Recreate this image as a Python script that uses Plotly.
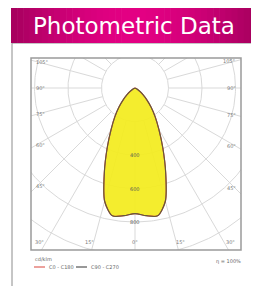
import numpy as np
import plotly.graph_objects as go

# ---------------- data ----------------
gamma_deg = [0, 5, 10, 15, 20, 25, 30, 35, 40, 45, 50, 55, 60, 65, 70, 75, 80, 85, 90]
i_c0_c180 = [750, 765, 775, 700, 535, 392, 285, 210, 150, 100, 62, 36, 18, 8, 3, 1, 0, 0, 0]
i_c90_c270 = [750, 765, 775, 700, 535, 392, 285, 210, 150, 100, 62, 36, 18, 8, 3, 1, 0, 0, 0]
grid_circles = [200, 400, 600, 800, 1000, 1200]
circle_label_values = [400, 600, 800]
circle_labels = ["400", "600", "800"]
side_angle_values = [105, 90, 75, 60, 45]
bottom_angle_values = [-30, -15, 0, 15, 30]
title_text = "Photometric Data"
legend_unit = "cd/klm"
legend_names = ["C0 - C180", "C90 - C270"]
efficiency_text = "η = 100%"

# ---------------- geometry / style ----------------
OFF = 8                                  # page body margin
W, H = 259 - OFF, 286 - OFF              # keep the page from overflowing the window
L, T, R, B = 31 - OFF, 58 - OFF, 241 - OFF, 250 - OFF   # plot area in figure px
CX, CY = 135 - OFF, 88 - OFF                            # pole position
K = 0.1675                               # px per cd/klm
x_min, x_max = (L - CX) / K, (R - CX) / K
y_max, y_min = (CY - T) / K, -(B - CY) / K

GRID = "#d9d9d9"
LABEL = "#7a7a7a"


def px_x(px):
    """screen x (as in the reference) -> paper coordinate"""
    return (px - OFF - L) / (R - L)


def px_y(py):
    """screen y (as in the reference) -> paper coordinate"""
    return (B - (py - OFF)) / (B - T)


def full_curve(gam, vals):
    th = [-g for g in reversed(gam)] + list(gam[1:])
    rr = list(reversed(vals)) + list(vals[1:])
    th = np.radians(th)
    rr = np.array(rr, dtype=float)
    return rr * np.sin(th), -rr * np.cos(th)


fig = go.Figure()

# grid circles
t = np.radians(np.linspace(0, 360, 361))
for rc in grid_circles:
    fig.add_trace(go.Scatter(x=rc * np.cos(t), y=rc * np.sin(t), mode="lines",
                             line=dict(color=GRID, width=1), hoverinfo="skip",
                             showlegend=False))
# radial lines every 15 deg, from the first circle outward
gx, gy = [], []
for a in range(0, 360, 15):
    ar = np.radians(a)
    r0, r1 = grid_circles[0], 1500
    gx += [r0 * np.sin(ar), r1 * np.sin(ar), None]
    gy += [-r0 * np.cos(ar), -r1 * np.cos(ar), None]
fig.add_trace(go.Scatter(x=gx, y=gy, mode="lines", line=dict(color=GRID, width=1),
                         hoverinfo="skip", showlegend=False))

# filled distribution
fx, fy = full_curve(gamma_deg, i_c90_c270)
fig.add_trace(go.Scatter(x=fx, y=fy, mode="lines", fill="toself",
                         fillcolor="rgba(243,236,30,0.93)",
                         line=dict(width=0, shape="spline", smoothing=0.8),
                         hoverinfo="skip", showlegend=False))
# C0-C180 (red) and C90-C270 (dark) outlines
x0c, y0c = full_curve(gamma_deg, i_c0_c180)
fig.add_trace(go.Scatter(x=x0c, y=y0c, mode="lines", name=legend_names[0],
                         line=dict(color="#d9453a", width=1.2, shape="spline", smoothing=0.8),
                         showlegend=False))
fig.add_trace(go.Scatter(x=fx, y=fy, mode="lines", name=legend_names[1],
                         line=dict(color="#5f5c3c", width=1.1, shape="spline", smoothing=0.8),
                         showlegend=False))

ann = []
# intensity labels along 0 deg
for v, s in zip(circle_label_values, circle_labels):
    ann.append(dict(x=0, y=-v, text=s, showarrow=False, xref="x", yref="y",
                    font=dict(size=5, color="#555555", family="DejaVu Sans")))

# side angle labels
inset = 6 / K
for a in side_angle_values:
    ar = np.radians(a)
    for side in (-1, 1):
        dist = (-x_min if side < 0 else x_max) - inset
        yy = -dist * np.cos(ar) / np.sin(ar)
        ann.append(dict(x=(x_min if side < 0 else x_max), y=yy, text=f"{a}°",
                        showarrow=False, xref="x", yref="y",
                        xanchor=("left" if side < 0 else "right"),
                        xshift=(3 if side < 0 else -3),
                        font=dict(size=5, color=LABEL, family="DejaVu Sans")))
# bottom angle labels
for a in bottom_angle_values:
    ar = np.radians(a)
    xx = -y_min * np.tan(ar)
    ann.append(dict(x=xx, y=y_min, text=f"{abs(a)}°", showarrow=False, xref="x", yref="y",
                    yanchor="bottom", yshift=3, xshift=2 * np.sign(a),
                    font=dict(size=5, color=LABEL, family="DejaVu Sans")))

# header title
ann.append(dict(x=px_x(134), y=px_y(25.5), xref="paper", yref="paper", text=title_text,
                showarrow=False, xanchor="center", yanchor="middle",
                font=dict(size=23, color="white", family="DejaVu Sans")))
# legend
ann.append(dict(x=px_x(33), y=px_y(259), xref="paper", yref="paper", text=legend_unit,
                showarrow=False, xanchor="left", yanchor="middle",
                font=dict(size=5, color="#666666", family="DejaVu Sans")))
ann.append(dict(x=px_x(47), y=px_y(267), xref="paper", yref="paper", text=legend_names[0],
                showarrow=False, xanchor="left", yanchor="middle",
                font=dict(size=5, color="#666666", family="DejaVu Sans")))
ann.append(dict(x=px_x(89), y=px_y(267), xref="paper", yref="paper", text=legend_names[1],
                showarrow=False, xanchor="left", yanchor="middle",
                font=dict(size=5, color="#666666", family="DejaVu Sans")))
ann.append(dict(x=px_x(243), y=px_y(261), xref="paper", yref="paper", text=efficiency_text,
                showarrow=False, xanchor="right", yanchor="middle",
                font=dict(size=5, color="#666666", family="DejaVu Sans")))

shapes = []
# outer white box
shapes.append(dict(type="rect", xref="paper", yref="paper", x0=px_x(12), x1=px_x(257),
                   y0=px_y(300), y1=px_y(43), line=dict(color="#8c8c8c", width=1),
                   fillcolor="white", layer="below"))
# header gradient bar (dark edges, bright centre)
n = 40
x_left, x_right = 11, 256
for i in range(n):
    xa = x_left + (x_right - x_left) * i / n
    xb = x_left + (x_right - x_left) * (i + 1) / n + 0.6
    u = abs((i + 0.5) / n - 0.5) * 2
    r = int(228 - 62 * u ** 1.6)
    b = int(132 - 38 * u ** 1.6)
    shapes.append(dict(type="rect", xref="paper", yref="paper", x0=px_x(xa), x1=px_x(xb),
                       y0=px_y(43), y1=px_y(5), line=dict(width=0),
                       fillcolor=f"rgb({r},0,{b})", layer="above"))
# plot frame
shapes.append(dict(type="rect", xref="paper", yref="paper", x0=0, x1=1, y0=0, y1=1,
                   line=dict(color="#9a9a9a", width=1.5), layer="above"))
# legend lines
shapes.append(dict(type="line", xref="paper", yref="paper", x0=px_x(34), x1=px_x(45),
                   y0=px_y(267), y1=px_y(267), line=dict(color="#d9453a", width=1)))
shapes.append(dict(type="line", xref="paper", yref="paper", x0=px_x(76), x1=px_x(87),
                   y0=px_y(267), y1=px_y(267), line=dict(color="#333333", width=1)))

fig.update_layout(
    width=W, height=H,
    margin=dict(l=L, r=W - R, t=T, b=H - B, pad=0),
    paper_bgcolor="white", plot_bgcolor="rgba(0,0,0,0)",
    xaxis=dict(range=[x_min, x_max], visible=False, fixedrange=True),
    yaxis=dict(range=[y_min, y_max], visible=False, fixedrange=True),
    showlegend=False,
    annotations=ann, shapes=shapes,
)

fig.write_html("out.html")
